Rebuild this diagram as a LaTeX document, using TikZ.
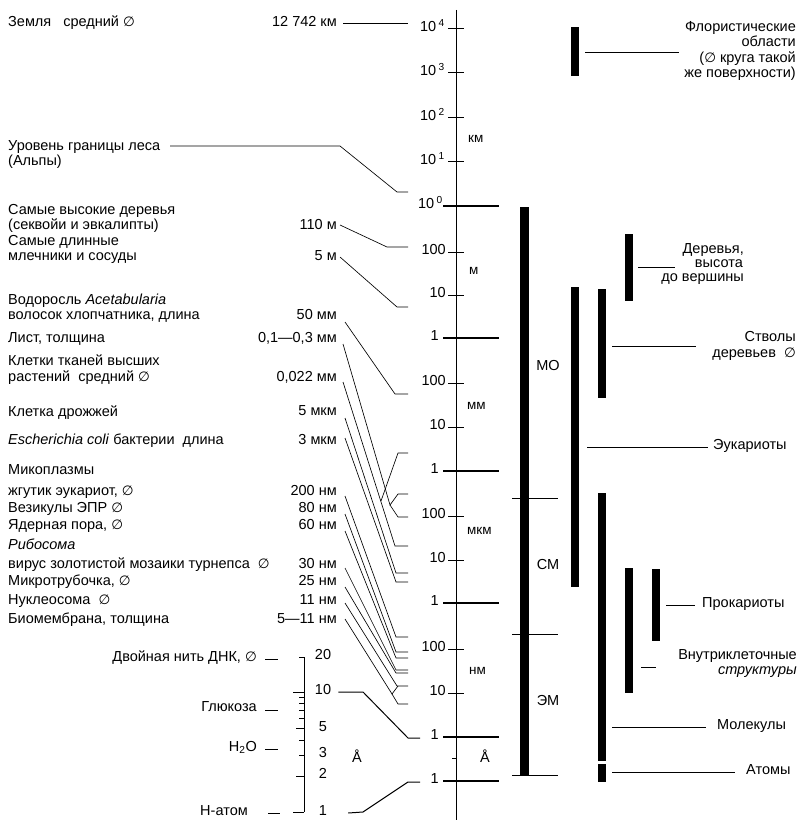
\documentclass[tikz,border=0pt]{standalone}
\usepackage{fontspec}
\setmainfont{Liberation Sans}
\newfontfamily\symf{DejaVu Sans}
\newcommand{\dm}{{\symf\fontsize{13.5}{14}\selectfont ∅}}
\newcommand{\fs}{\fontsize{14.5}{16}\selectfont}
\tikzset{
  t/.style={inner sep=0pt, font=\fs},
  L/.style={t, anchor=mid west},
  R/.style={t, anchor=mid east},
  C/.style={t, anchor=mid},
  U/.style={inner sep=0pt, anchor=mid west, font=\fontsize{13.5}{15}\selectfont},
  lead/.style={line width=0.65pt},
  bar/.style={fill=black, draw=none},
  tk/.style={line width=1pt},
  tkb/.style={line width=2pt},
}
\begin{document}
\begin{tikzpicture}[x=1pt,y=-1pt]
\useasboundingbox (0,0) rectangle (806,829);
% ---------------- main axis
\draw[tk] (456,10) -- (456,820);
\foreach \y in {29,73,118,162,252,295,383,427,516,560,649,693}
  \draw[tk] (448,\y) -- (464,\y);
\foreach \y in {206,338,471,603,737,781}
  \draw[tkb] (443,\y) -- (499,\y);
\draw[tk] (452,758) -- (456,758);
% axis labels
\node[R] (a1) at (445,29) {10\,\textsuperscript{4}};
\node[R] (a2) at (445,73) {10\,\textsuperscript{3}};
\node[R] (a3) at (445,118) {10\,\textsuperscript{2}};
\node[R] (a4) at (445,162) {10\,\textsuperscript{1}};
\node[R] (a5) at (443,206) {10\,\textsuperscript{0}};
\node[R] (a6) at (446,252) {100};
\node[R] (a7) at (446,295) {10};
\node[R] (a8) at (439,338) {1};
\node[R] (a9) at (446,383) {100};
\node[R] (a10) at (446,427) {10};
\node[R] (a11) at (439,471) {1};
\node[R] (a12) at (446,516) {100};
\node[R] (a13) at (446,560) {10};
\node[R] (a14) at (439,603) {1};
\node[R] (a15) at (446,649) {100};
\node[R] (a16) at (446,693) {10};
\node[R] (a17) at (439,737) {1};
\node[R] (a18) at (439,781) {1};
% unit labels
\node[U] (u1) at (468,140) {км};
\node[U] (u2) at (469,272) {м};
\node[U] (u3) at (467,407) {мм};
\node[U] (u4) at (467,532) {мкм};
\node[U] (u5) at (469,672) {нм};
\node[C] (u6) at (485,760) {Å};
% ---------------- bars
\fill[bar] (520,207) rectangle (529,775);
\draw[lead] (512,498) -- (558,498);
\draw[lead] (512,634) -- (558,634);
\draw[lead] (512,775) -- (558,775);
\node[C] (mo) at (548,368) {МО};
\node[C] (sm) at (548,567) {СМ};
\node[C] (em) at (548,703) {ЭМ};
\fill[bar] (571,27) rectangle (579,76);
\fill[bar] (571,287) rectangle (579,587);
\fill[bar] (598,289) rectangle (606,398);
\fill[bar] (598,493) rectangle (606,761);
\fill[bar] (598,764) rectangle (606,782);
\fill[bar] (625,234) rectangle (633,301);
\fill[bar] (625,568) rectangle (633,693);
\fill[bar] (652,569) rectangle (660,641);
% ---------------- right labels
\node[R] (r1a) at (796,29) {Флористические};
\node[R] (r1b) at (796,44) {области};
\node[R] (r1c) at (796,60) {(\dm\ круга такой};
\node[R] (r1d) at (796,75) {же поверхности)};
\coordinate (q1) at (585,52);
\draw[lead] (q1) -- (679,52);
\node[R] (r2a) at (744,251) {Деревья,};
\node[R] (r2b) at (743,265) {высота};
\node[R] (r2c) at (744,279) {до вершины};
\coordinate (q2) at (638,267);
\draw[lead] (q2) -- (675,267);
\node[R] (r3a) at (796,339) {Стволы};
\node[R] (r3b) at (796,355) {деревьев\ \ \dm};
\coordinate (q3) at (612,346);
\draw[lead] (q3) -- (696,346);
\node[L] (r4) at (713,447) {Эукариоты};
\coordinate (q4) at (587,447);
\draw[lead] (q4) -- ([xshift=-5pt]r4.mid west);
\node[L] (r5) at (702,605) {Прокариоты};
\coordinate (q5) at (666,605);
\draw[lead] (q5) -- ([xshift=-7pt]r5.mid west);
\node[R] (r6a) at (797,657) {Внутриклеточные};
\node[R] (r6b) at (797,672) {\textit{структуры}};
\coordinate (q6) at (641,667);
\draw[lead] (q6) -- (656,667);
\node[L] (r7) at (717,727) {Молекулы};
\coordinate (q7) at (612,727);
\draw[lead] (q7) -- ([xshift=-11pt]r7.mid west);
\node[L] (r8) at (746,772) {Атомы};
\coordinate (q8) at (612,772);
\draw[lead] (q8) -- ([xshift=-11pt]r8.mid west);
% ---------------- left labels
\node[L] (l1) at (8,24) {Земля\hspace{12pt}средний \dm};
\node[L] (l2a) at (8,148) {Уровень границы леса};
\node[L] (l2b) at (8,163) {(Альпы)};
\node[L] (l3a) at (8,212) {Самые высокие деревья};
\node[L] (l3b) at (8,227) {(секвойи и эвкалипты)};
\node[L] (l4a) at (8,243) {Самые длинные};
\node[L] (l4b) at (8,258) {млечники и сосуды};
\node[L] (l5a) at (8,302) {Водоросль \textit{Acetabularia}};
\node[L] (l5b) at (8,317) {волосок хлопчатника, длина};
\node[L] (l6) at (8,340) {Лист, толщина};
\node[L] (l7a) at (8,363) {Клетки тканей высших};
\node[L] (l7b) at (8,379) {растений\ \ средний \dm};
\node[L] (l8) at (8,414) {Клетка дрожжей};
\node[L] (l9) at (8,442) {\textit{Escherichia coli} бактерии\ \ длина};
\node[L] (l10a) at (8,472) {Микоплазмы};
\node[L] (l10b) at (8,493) {жгутик эукариот, \dm};
\node[L] (l11) at (8,510) {Везикулы ЭПР \dm};
\node[L] (l12) at (8,527) {Ядерная пора, \dm};
\node[L] (l13a) at (8,547) {\textit{Рибосома}};
\node[L] (l13b) at (8,566) {вирус золотистой мозаики турнепса\ \ \dm};
\node[L] (l14) at (8,583) {Микротрубочка, \dm};
\node[L] (l15) at (8,602) {Нуклеосома\ \ \dm};
\node[L] (l16) at (8,621) {Биомембрана, толщина};
% values
\node[R] (v1) at (337,24) {12 742 км};
\node[R] (v3) at (337,227) {110 м};
\node[R] (v4) at (337,258) {5 м};
\node[R] (v5) at (337,317) {50 мм};
\node[R] (v6) at (337,340) {0,1—0,3 мм};
\node[R] (v7) at (337,379) {0,022 мм};
\node[R] (v8) at (337,413) {5 мкм};
\node[R] (v9) at (337,442) {3 мкм};
\node[R] (v10) at (337,493) {200 нм};
\node[R] (v11) at (337,510) {80 нм};
\node[R] (v12) at (337,527) {60 нм};
\node[R] (v13) at (337,566) {30 нм};
\node[R] (v14) at (337,583) {25 нм};
\node[R] (v15) at (337,602) {11 нм};
\node[R] (v16) at (337,621) {5—11 нм};
% stub end coordinates
\coordinate (s1) at (408,23);
\coordinate (s2) at (408,192);
\coordinate (s3) at (408,247);
\coordinate (s4) at (408,307);
\coordinate (s5) at (408,394);
\coordinate (s6a) at (408,494);
\coordinate (s6b) at (408,517);
\coordinate (s7) at (408,546);
\coordinate (sx) at (408,453);
\coordinate (s8) at (408,573);
\coordinate (s9) at (408,582);
\coordinate (s10) at (408,637);
\coordinate (s11) at (408,652);
\coordinate (s12) at (408,658);
\coordinate (s13) at (408,670);
\coordinate (s14) at (408,673);
\coordinate (s15) at (408,686);
\coordinate (s16) at (408,704);
% leaders
\draw[lead] (343,23) -- (s1);
\draw[lead] (170,146) -- (340,146) -- (397,192) -- (s2);
\draw[lead] (340,225) -- (387,247) -- (s3);
\draw[lead] (340,257) -- (397,307) -- (s4);
\draw[lead] (345,322) -- (395,394) -- (s5);
\draw[lead] (343,344) -- (390,505) -- (398,494) -- (s6a);
\draw[lead] (390,505) -- (398,517) -- (s6b);
\draw[lead] (343,382) -- (395,546) -- (s7);
\draw[lead] (381,501) -- (398,453) -- (sx);
\draw[lead] (345,418) -- (396,573) -- (s8);
\draw[lead] (345,438) -- (396,582) -- (s9);
\draw[lead] (345,496) -- (396,637) -- (s10);
\draw[lead] (345,514) -- (396,652) -- (s11);
\draw[lead] (345,531) -- (396,658) -- (s12);
\draw[lead] (345,568) -- (396,670) -- (s13);
\draw[lead] (345,587) -- (396,673) -- (s14);
\draw[lead] (345,603) -- (397,686) -- (s15);
\draw[lead] (345,619) -- (392,694) -- (398,686);
\draw[lead] (392,694) -- (398,704) -- (s16);
% ---------------- Angstrom scale
\draw[tk] (304,657) -- (304,812);
\draw[tk] (299,657) -- (304,657);
\draw[tk] (293,812) -- (304,812);
\draw[tk] (293,692) -- (304,692);
\foreach \y in {697.5,703.6,710.6,718.6,740,755}
  \draw[tk] (299,\y) -- (304,\y);
\draw[tk] (296,728) -- (304,728);
\draw[tk] (296,776) -- (304,776);
\node[C] (g20) at (323,657) {20};
\node[C] (g10) at (323,692) {10};
\node[C] (g5) at (323,729) {5};
\node[C] (g3) at (323,755) {3};
\node[C] (g2) at (323,776) {2};
\node[C] (g1) at (323,813) {1};
\node[C] (gA) at (357,760) {Å};
\node[R] (d1) at (257,659) {Двойная нить ДНК, \dm};
\node[R] (d2) at (257,709) {Глюкоза};
\node[R] (d3) at (257,749) {H\textsubscript{2}O};
\node[R] (d4) at (248,813) {Н-атом};
\draw[tk] (265,659) -- (278,659);
\draw[tk] (265,710) -- (278,710);
\draw[tk] (265,749) -- (278,749);
\draw[tk] (268,813) -- (280,813);
\coordinate (sA1) at (420,738);
\coordinate (sA2) at (420,782);
\draw[tk] ([xshift=7pt]g10.mid east) -- (363,692) -- (408,738) -- (sA1);
\draw[tk] ([xshift=21pt]g1.mid east) -- (363,812) -- (408,782) -- (sA2);
\end{tikzpicture}
\end{document}
